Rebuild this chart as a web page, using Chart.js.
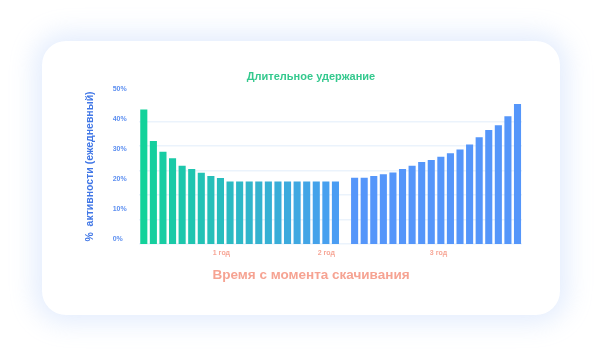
<!DOCTYPE html>
<html><head><meta charset="utf-8">
<script src="https://cdn.jsdelivr.net/npm/chart.js@4.4.1/dist/chart.umd.min.js"></script>
<style>
html,body{margin:0;padding:0;background:#fff;width:602px;height:356px;overflow:hidden}
#card{position:absolute;left:42px;top:41px;width:518px;height:274px;border-radius:24px;background:#fff;box-shadow:0 0 24px 8px rgba(221,233,252,0.8)}
#c{position:absolute;left:0;top:0}
</style></head><body>
<div id="card"></div>
<canvas id="c" width="602" height="356"></canvas>
<script>
// ---- data ----
const periods = [0,1,2,3,4,5,6,7,8,9,10,11,12,13,14,15,16,17,18,19,20,21,22,23,24,25,26,27,28,29,30,31,32,33,34,35,36,37,38,39];
const activity = [43.2, 32.7, 29.1, 26.9, 24.4, 23.3, 22.1, 21.0, 20.3,
  19.2, 19.2, 19.2, 19.2, 19.2, 19.2, 19.2, 19.2, 19.2, 19.2, 19.2, 19.2,
  null,
  20.4, 20.4, 21.0, 21.6, 22.2, 23.3, 24.4, 25.7, 26.3, 27.4, 28.6, 29.8, 31.5, 33.9, 36.3, 37.9, 40.9, 45.0];
const yTicks = [0, 10, 20, 30, 40, 50];
const xTickPositions = [8.1, 19.05, 30.75];
const xTickLabels = ['1 год', '2 год', '3 год'];
const chartTitle = 'Длительное удержание';
const xTitle = 'Время с момента скачивания';
const yTitle = '%  активности (ежедневный)';

// ---- styles ----
const yMin = -5/3;
const green = [18, 210, 154], lightBlue = [74, 157, 243], rightBlue = '#5596fa';
function mix(a, b, t) { return 'rgb(' + a.map((v, k) => Math.round(v + (b[k] - v) * t)).join(',') + ')'; }
const barColors = periods.map(i => i <= 20 ? mix(green, lightBlue, i / 20) : rightBlue);
const font = 'Liberation Sans';

new Chart(document.getElementById('c'), {
  type: 'bar',
  data: {
    datasets: [{
      data: periods.map((p, i) => ({x: p, y: activity[i]})),
      backgroundColor: barColors,
      base: yMin,
      categoryPercentage: 1,
      barPercentage: 0.74
    }]
  },
  options: {
    responsive: false,
    animation: false,
    devicePixelRatio: 1,
    layout: {padding: {left: 72, right: 52, top: 0, bottom: 72.4}},
    plugins: {
      legend: {display: false},
      tooltip: {enabled: false},
      title: {display: true, text: chartTitle, color: '#34c98e',
        font: {family: font, size: 11, weight: 'bold'}, padding: {top: 70.4, bottom: 5.4}},
      subtitle: {display: true, position: 'bottom', text: xTitle, color: '#f6a392',
        font: {family: font, size: 13.5, weight: 'bold'}, padding: {top: 5.4, bottom: 0}}
    },
    scales: {
      x: {
        type: 'linear', min: -0.5, max: 39.5, offset: false,
        grid: {display: false, drawTicks: false}, border: {display: false},
        afterBuildTicks: s => { s.ticks = xTickPositions.map(v => ({value: v})); },
        ticks: {autoSkip: false, maxRotation: 0, padding: 4.8, color: '#f7a696',
          font: {family: font, size: 7, weight: 'bold'}, callback: (v, i) => xTickLabels[i]}
      },
      y: {
        position: 'left', weight: 0, min: yMin, max: 50,
        afterBuildTicks: s => { s.ticks = yTicks.map(v => ({value: v})); },
        grid: {display: false, drawTicks: false}, border: {display: false},
        ticks: {crossAlign: 'far', padding: 6.15, color: '#5d8ff0',
          font: {family: font, size: 7, weight: 'bold'}, callback: v => v + '%'}
      },
      yTitle: {
        type: 'linear', position: 'left', weight: 1,
        grid: {display: false, drawTicks: false}, border: {display: false},
        ticks: {display: false},
        title: {display: true, text: yTitle, color: '#4177e6',
          font: {family: font, size: 10.5, weight: 'bold'}, padding: {top: 12, bottom: 16.1}}
      },
      yGrid: {
        type: 'linear', position: 'right', min: 0, max: 6.337,
        afterBuildTicks: s => { s.ticks = s.ticks.filter(t => t.value <= 5); },
        ticks: {display: false, stepSize: 1}, border: {display: false},
        grid: {color: '#ebf3fc', lineWidth: 1.5, drawTicks: false},
        afterFit: s => { s.width = 27.7; }
      }
    }
  }
});
</script>
</body></html>
